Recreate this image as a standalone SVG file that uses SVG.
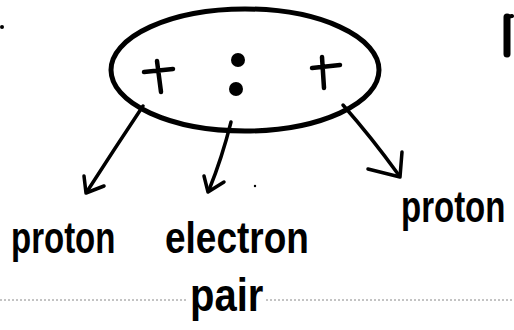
<svg xmlns="http://www.w3.org/2000/svg" width="514" height="330" viewBox="0 0 514 330">
<style>
.ink{fill:none;stroke:#000;stroke-linecap:round;stroke-linejoin:round}
.t{font-family:"Liberation Sans",Arial,sans-serif;font-weight:bold;fill:#000}
</style>
<rect width="514" height="330" fill="#fff"/>
<g id="molecule">
<ellipse cx="245" cy="70" rx="134" ry="61" class="ink" stroke-width="5"/>
<path class="ink" stroke-width="4.5" d="M144 72 L173 69 M157 61 L161 92"/>
<path class="ink" stroke-width="4.5" d="M312 68 L340 65 M322 57 L324 88"/>
<circle cx="238" cy="60" r="7"/>
<circle cx="236" cy="89" r="7"/>
</g>
<g id="connectors">
<path class="ink" stroke-width="3.5" d="M143 106 Q115 148 88 190"/>
<path class="ink" stroke-width="3.5" d="M84 176 L86 193 L104 186"/>
<path class="ink" stroke-width="3.5" d="M231 122 Q222 158 209 190"/>
<path class="ink" stroke-width="3.5" d="M204 176 L208 192 L224 182"/>
<path class="ink" stroke-width="3.5" d="M343 105 Q372 138 398 174"/>
<path class="ink" stroke-width="3.5" d="M402 152 L400 177 L368 169"/>
</g>
<g id="label-proton-left"><text class="t" transform="translate(11,253) scale(1,1.33)" x="0" y="0" font-size="33">proton</text></g>
<g id="label-electron-pair">
<text class="t" transform="translate(165,253) scale(1,1.2)" x="0" y="0" font-size="37">electron</text>
<text class="t" transform="translate(190,311) scale(1,1.15)" x="0" y="0" font-size="40">pair</text>
</g>
<g id="label-proton-right"><text class="t" transform="translate(401,222) scale(1,1.33)" x="0" y="0" font-size="33">proton</text></g>
<path d="M0 300 H188 M266 300 H514" stroke="#888" stroke-width="1" stroke-dasharray="2 2" fill="none"/>
<path class="ink" stroke-width="7" d="M507 17 L507 54"/>
<path class="ink" stroke-width="4" d="M507 17 L512 16"/>
<circle cx="2" cy="27" r="2"/>
<circle cx="255" cy="186" r="1.2"/>
</svg>
